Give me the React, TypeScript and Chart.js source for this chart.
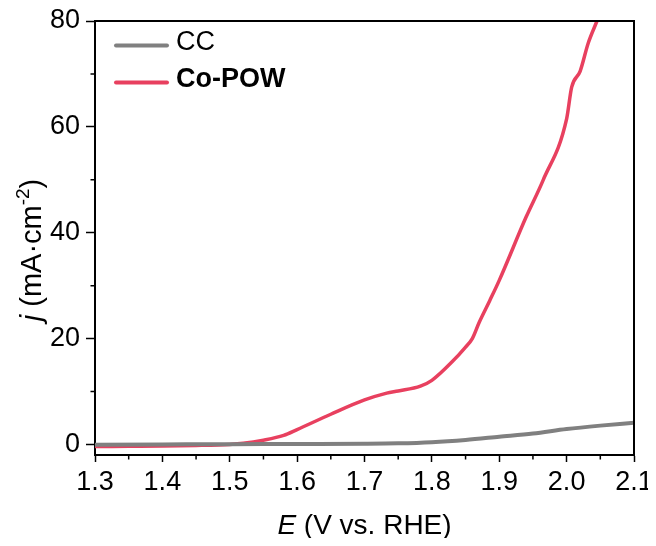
import React, { useEffect, useRef } from "react";
import { Chart, registerables } from "chart.js";

Chart.register(...registerables);

const ccE = [1.3, 1.4, 1.5, 1.6, 1.7, 1.75, 1.8, 1.85, 1.9, 1.95, 2.0, 2.05, 2.1];
const ccJ = [-0.05, 0.0, 0.05, 0.08, 0.12, 0.2, 0.42, 0.85, 1.45, 2.05, 2.9, 3.55, 4.1];

const coE = [1.3, 1.35, 1.4, 1.45, 1.5, 1.52, 1.55, 1.58, 1.6, 1.65, 1.7, 1.733, 1.75, 1.783, 1.8, 1.83, 1.85, 1.86, 1.87, 1.886, 1.9, 1.94, 1.965, 2.0, 2.0075, 2.02, 2.032, 2.045, 2.06];
const coJ = [-0.4, -0.35, -0.3, -0.2, 0.0, 0.2, 0.8, 1.7, 2.8, 5.7, 8.4, 9.7, 10.1, 11.0, 12.1, 15.6, 18.4, 20.0, 23.0, 27.2, 31.0, 43.0, 49.9, 61.5, 67.5, 70.5, 75.8, 80.0, 85.0];

const xTicks = [1.3, 1.4, 1.5, 1.6, 1.7, 1.8, 1.9, 2.0, 2.1];
const xMinor = [1.35, 1.45, 1.55, 1.65, 1.75, 1.85, 1.95, 2.05];
const yTicks = [0, 20, 40, 60, 80];
const yMinor = [10, 30, 50, 70];

const seriesNames = ["CC", "Co-POW"];
const seriesColors = ["#808080", "#e8405f"];

const FONT = "'Liberation Sans', Arial, sans-serif";

const decorPlugin = {
  id: "decor",
  afterDraw(chart: any) {
    const ctx = chart.ctx as CanvasRenderingContext2D;
    const { left, right, top, bottom } = chart.chartArea;
    const xs = chart.scales.x;
    const ys = chart.scales.y;
    ctx.save();
    // frame top/right
    ctx.strokeStyle = "#000";
    ctx.lineWidth = 2;
    ctx.beginPath();
    ctx.moveTo(left - 1, top);
    ctx.lineTo(right, top);
    ctx.lineTo(right, bottom + 1);
    ctx.stroke();
    // minor ticks
    ctx.lineWidth = 1.5;
    ctx.beginPath();
    xMinor.forEach((v) => {
      const px = xs.getPixelForValue(v);
      ctx.moveTo(px, bottom);
      ctx.lineTo(px, bottom + 4.5);
    });
    yMinor.forEach((v) => {
      const py = ys.getPixelForValue(v);
      ctx.moveTo(left, py);
      ctx.lineTo(left - 4.5, py);
    });
    ctx.stroke();

    // legend
    const legendY = [37.5, 74.5];
    ctx.textBaseline = "middle";
    ctx.textAlign = "left";
    seriesNames.forEach((name, i) => {
      ctx.strokeStyle = seriesColors[i];
      ctx.lineWidth = 4;
      ctx.lineCap = "round";
      ctx.beginPath();
      ctx.moveTo(108, legendY[i]);
      ctx.lineTo(159, legendY[i]);
      ctx.stroke();
      ctx.fillStyle = "#000";
      ctx.font = (i === 1 ? "bold " : "") + "27px " + FONT;
      ctx.fillText(name, 168, legendY[i] - 3);
    });

    // x title
    ctx.fillStyle = "#000";
    const xParts = [
      { t: "E", f: "italic 28px " + FONT },
      { t: " (V vs. RHE)", f: "28px " + FONT },
    ];
    let w = 0;
    xParts.forEach((p) => {
      ctx.font = p.f;
      w += ctx.measureText(p.t).width;
    });
    let x0 = (left + right) / 2 - w / 2;
    ctx.textBaseline = "alphabetic";
    xParts.forEach((p) => {
      ctx.font = p.f;
      ctx.fillText(p.t, x0, 526);
      x0 += ctx.measureText(p.t).width;
    });

    // y title
    const yParts = [
      { t: "j", f: "italic 29px " + FONT, dy: 0 },
      { t: " (mA\u00b7cm", f: "29px " + FONT, dy: 0 },
      { t: "-2", f: "19px " + FONT, dy: -12 },
      { t: ")", f: "29px " + FONT, dy: 0 },
    ];
    let wy = 0;
    yParts.forEach((p) => {
      ctx.font = p.f;
      wy += ctx.measureText(p.t).width;
    });
    ctx.translate(33, 242);
    ctx.rotate(-Math.PI / 2);
    let y0 = -wy / 2;
    yParts.forEach((p) => {
      ctx.font = p.f;
      ctx.fillText(p.t, y0, p.dy);
      y0 += ctx.measureText(p.t).width;
    });
    ctx.restore();
  },
};

export default function App() {
  const ref = useRef<HTMLCanvasElement>(null);
  useEffect(() => {
    if (!ref.current) return;
    const chart = new Chart(ref.current, {
      type: "line",
      data: {
        datasets: [
          {
            label: seriesNames[0],
            data: ccE.map((x, i) => ({ x, y: ccJ[i] })),
            borderColor: seriesColors[0],
            borderWidth: 4,
            pointRadius: 0,
            cubicInterpolationMode: "monotone",
          },
          {
            label: seriesNames[1],
            data: coE.map((x, i) => ({ x, y: coJ[i] })),
            borderColor: seriesColors[1],
            borderWidth: 3.5,
            pointRadius: 0,
            cubicInterpolationMode: "monotone",
          },
        ],
      },
      options: {
        animation: false,
        responsive: true,
        maintainAspectRatio: false,
        layout: { padding: { top: 13, right: 14, left: 0, bottom: 0 } },
        plugins: { legend: { display: false }, tooltip: { enabled: false } },
        scales: {
          x: {
            type: "linear",
            min: 1.3,
            max: 2.1,
            afterBuildTicks: (s: any) => {
              s.ticks = xTicks.map((v) => ({ value: v }));
            },
            afterFit: (s: any) => {
              s.height = 83;
              s.paddingLeft = 0;
              s.paddingRight = 0;
            },
            ticks: {
              autoSkip: false,
              maxRotation: 0,
              padding: 4,
              color: "#000",
              font: { family: FONT, size: 27 },
              callback: (v: any) => Number(v).toFixed(1),
            },
            grid: {
              drawOnChartArea: false,
              drawTicks: true,
              tickLength: 7,
              tickColor: "#000",
              tickWidth: 1.5,
            },
            border: { display: true, color: "#000", width: 2 },
          },
          y: {
            type: "linear",
            min: -2,
            max: 80,
            afterBuildTicks: (s: any) => {
              s.ticks = yTicks.map((v) => ({ value: v }));
            },
            afterFit: (s: any) => {
              s.width = 87;
              s.paddingTop = 0;
              s.paddingBottom = 0;
            },
            ticks: {
              padding: 6,
              color: "#000",
              font: { family: FONT, size: 27 },
            },
            grid: {
              drawOnChartArea: false,
              drawTicks: true,
              tickLength: 9,
              tickColor: "#000",
              tickWidth: 1.5,
            },
            border: { display: true, color: "#000", width: 2 },
          },
        },
      },
      plugins: [decorPlugin],
    });
    return () => chart.destroy();
  }, []);
  return (
    <div style={{ width: 640, height: 530, position: "relative" }}>
      <canvas ref={ref} />
    </div>
  );
}
